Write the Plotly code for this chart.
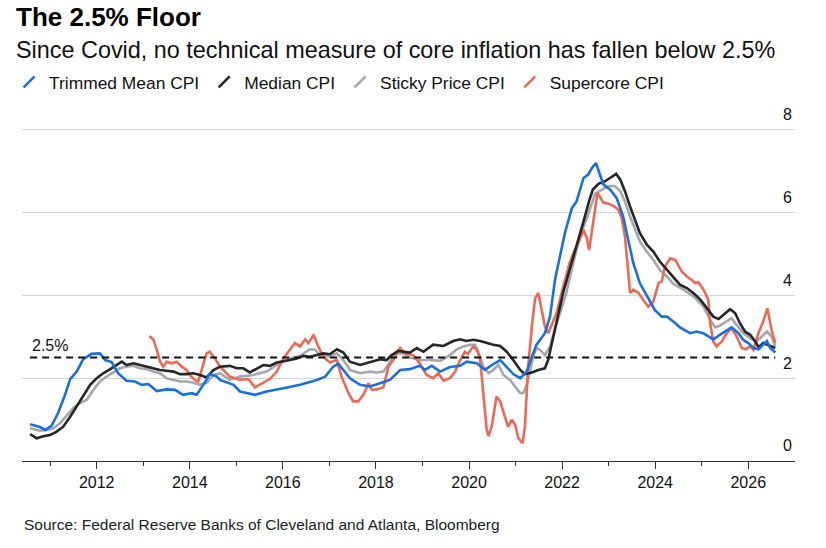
import plotly.graph_objects as go

# Core inflation measures, y/y %, x in decimal years
trim_x = [2010.57, 2010.78, 2010.89, 2011.03, 2011.17, 2011.32, 2011.43, 2011.57, 2011.71, 2011.89,
          2012.07, 2012.18, 2012.32, 2012.46, 2012.64, 2012.82, 2012.97, 2013.11, 2013.29, 2013.50,
          2013.68, 2013.86, 2014.04, 2014.15, 2014.29, 2014.43, 2014.58, 2014.65, 2014.94, 2015.08,
          2015.40, 2015.65, 2016.01, 2016.37, 2016.73, 2016.91, 2017.08, 2017.19, 2017.30, 2017.44,
          2017.66, 2017.87, 2018.09, 2018.30, 2018.52, 2018.73, 2018.94, 2019.05, 2019.20, 2019.38,
          2019.59, 2019.81, 2019.95, 2020.17, 2020.34, 2020.49, 2020.67, 2020.81, 2020.95, 2021.10,
          2021.24, 2021.35, 2021.45, 2021.63, 2021.74, 2021.85, 2022.06, 2022.21, 2022.31, 2022.46,
          2022.56, 2022.64, 2022.73, 2022.80, 2022.89, 2023.03, 2023.17, 2023.31, 2023.42, 2023.53,
          2023.67, 2023.82, 2023.99, 2024.14, 2024.25, 2024.39, 2024.53, 2024.75, 2024.89, 2025.03,
          2025.25, 2025.39, 2025.54, 2025.64, 2025.79, 2025.89, 2026.00, 2026.11, 2026.22, 2026.29,
          2026.40, 2026.47, 2026.58]
trim_y = [0.89, 0.82, 0.75, 0.85, 1.16, 1.60, 1.98, 2.16, 2.46, 2.59,
          2.60, 2.44, 2.39, 2.12, 1.94, 1.92, 1.84, 1.86, 1.69, 1.73,
          1.72, 1.60, 1.64, 1.60, 1.84, 2.10, 2.04, 1.96, 1.84, 1.68,
          1.60, 1.68, 1.76, 1.84, 1.96, 2.04, 2.28, 2.35, 2.20, 2.00,
          1.84, 1.80, 1.88, 1.96, 2.20, 2.22, 2.30, 2.20, 2.30, 2.16,
          2.27, 2.30, 2.40, 2.36, 2.20, 2.32, 2.44, 2.27, 2.10, 2.00,
          2.16, 2.52, 2.81, 3.09, 3.49, 4.40, 5.51, 6.11, 6.27, 6.84,
          6.92, 7.08, 7.20, 6.96, 6.68, 6.56, 6.36, 5.91, 5.35, 4.78,
          4.30, 3.98, 3.65, 3.49, 3.49, 3.37, 3.23, 3.09, 3.13, 3.09,
          2.94, 3.05, 3.17, 3.23, 3.09, 2.93, 2.85, 2.73, 2.70, 2.78,
          2.90, 2.73, 2.62]

med_x = [2010.57, 2010.71, 2010.85, 2011.00, 2011.14, 2011.28, 2011.43, 2011.57, 2011.71, 2011.86,
         2012.00, 2012.14, 2012.29, 2012.43, 2012.54, 2012.64, 2012.79, 2012.93, 2013.07, 2013.22,
         2013.36, 2013.50, 2013.65, 2013.79, 2013.93, 2014.08, 2014.22, 2014.36, 2014.51, 2014.65,
         2014.86, 2015.01, 2015.15, 2015.29, 2015.44, 2015.58, 2015.72, 2015.87, 2016.15, 2016.30,
         2016.44, 2016.58, 2016.73, 2016.87, 2017.01, 2017.16, 2017.30, 2017.44, 2017.66, 2017.87,
         2018.09, 2018.23, 2018.34, 2018.48, 2018.59, 2018.73, 2018.88, 2019.02, 2019.23, 2019.45,
         2019.66, 2019.81, 2019.95, 2020.09, 2020.24, 2020.38, 2020.52, 2020.67, 2020.81, 2020.95,
         2021.10, 2021.20, 2021.35, 2021.49, 2021.63, 2021.70, 2021.81, 2021.95, 2022.02, 2022.16,
         2022.31, 2022.45, 2022.59, 2022.66, 2022.78, 2022.92, 2023.03, 2023.16, 2023.25, 2023.35,
         2023.46, 2023.57, 2023.67, 2023.82, 2023.96, 2024.10, 2024.25, 2024.39, 2024.53, 2024.68,
         2024.82, 2024.97, 2025.11, 2025.25, 2025.36, 2025.46, 2025.61, 2025.72, 2025.82, 2025.93,
         2026.04, 2026.15, 2026.22, 2026.32, 2026.47, 2026.58]
med_y = [0.65, 0.55, 0.60, 0.63, 0.71, 0.83, 1.07, 1.33, 1.57, 1.84,
         2.00, 2.12, 2.22, 2.32, 2.40, 2.32, 2.36, 2.32, 2.28, 2.24,
         2.20, 2.18, 2.16, 2.10, 2.10, 2.12, 2.08, 2.02, 2.20, 2.28,
         2.30, 2.24, 2.24, 2.14, 2.24, 2.32, 2.30, 2.38, 2.44, 2.48,
         2.54, 2.52, 2.56, 2.60, 2.58, 2.70, 2.62, 2.40, 2.32, 2.38,
         2.46, 2.44, 2.56, 2.66, 2.64, 2.62, 2.73, 2.64, 2.81, 2.78,
         2.90, 2.94, 2.90, 2.93, 2.90, 2.85, 2.81, 2.78, 2.64, 2.44,
         2.20, 2.10, 2.14, 2.20, 2.24, 2.44, 3.01, 3.65, 4.06, 4.62,
         5.18, 5.75, 6.32, 6.56, 6.70, 6.76, 6.84, 6.94, 6.80, 6.52,
         6.15, 5.83, 5.51, 5.23, 5.06, 4.82, 4.62, 4.42, 4.26, 4.18,
         4.06, 3.90, 3.69, 3.49, 3.43, 3.53, 3.67, 3.57, 3.33, 3.13,
         3.05, 2.89, 2.75, 2.85, 2.77, 2.73]

sticky_x = [2010.57, 2010.78, 2010.93, 2011.07, 2011.21, 2011.36, 2011.50, 2011.64, 2011.79, 2011.93,
            2012.07, 2012.21, 2012.36, 2012.50, 2012.64, 2012.79, 2012.93, 2013.07, 2013.22, 2013.36,
            2013.50, 2013.65, 2013.79, 2013.93, 2014.08, 2014.22, 2014.36, 2014.51, 2014.65, 2014.86,
            2015.08, 2015.36, 2015.65, 2015.87, 2016.15, 2016.37, 2016.58, 2016.69, 2016.80, 2017.01,
            2017.16, 2017.30, 2017.44, 2017.66, 2017.87, 2018.02, 2018.16, 2018.30, 2018.45, 2018.59,
            2018.73, 2018.94, 2019.16, 2019.38, 2019.59, 2019.73, 2019.88, 2020.02, 2020.13, 2020.20,
            2020.31, 2020.42, 2020.52, 2020.63, 2020.74, 2020.88, 2020.99, 2021.10, 2021.17, 2021.24,
            2021.31, 2021.38, 2021.45, 2021.52, 2021.63, 2021.74, 2021.84, 2021.95, 2022.09, 2022.24,
            2022.38, 2022.52, 2022.64, 2022.71, 2022.81, 2022.92, 2023.03, 2023.14, 2023.25, 2023.35,
            2023.46, 2023.57, 2023.67, 2023.82, 2023.96, 2024.10, 2024.25, 2024.39, 2024.61, 2024.82,
            2025.04, 2025.18, 2025.29, 2025.39, 2025.54, 2025.64, 2025.75, 2025.89, 2026.04, 2026.18,
            2026.29, 2026.40, 2026.50, 2026.58]
sticky_y = [0.79, 0.73, 0.75, 0.79, 0.91, 1.11, 1.28, 1.40, 1.48, 1.72,
            1.92, 2.04, 2.14, 2.24, 2.28, 2.30, 2.24, 2.22, 2.16, 2.12,
            2.00, 1.96, 1.92, 1.92, 1.89, 1.84, 1.89, 2.08, 2.12, 1.96,
            2.04, 2.08, 2.16, 2.32, 2.48, 2.54, 2.70, 2.69, 2.56, 2.52,
            2.60, 2.44, 2.20, 2.12, 2.16, 2.14, 2.16, 2.40, 2.60, 2.60,
            2.50, 2.44, 2.44, 2.42, 2.56, 2.69, 2.77, 2.81, 2.81, 2.64,
            2.28, 2.12, 2.20, 2.32, 2.08, 1.96, 1.81, 1.64, 1.65, 1.84,
            2.16, 2.54, 2.73, 2.69, 2.56, 2.77, 3.17, 3.57, 4.06, 4.78,
            5.43, 5.83, 6.23, 6.46, 6.52, 6.60, 6.65, 6.64, 6.52, 6.27,
            5.91, 5.59, 5.31, 5.06, 4.86, 4.62, 4.46, 4.28, 4.14, 3.98,
            3.73, 3.41, 3.23, 3.27, 3.37, 3.45, 3.29, 3.09, 2.97, 2.89,
            3.01, 3.13, 3.01, 2.77]

core_x = [2013.13, 2013.22, 2013.29, 2013.36, 2013.43, 2013.50, 2013.61, 2013.72, 2013.83, 2013.93,
          2014.00, 2014.11, 2014.18, 2014.26, 2014.36, 2014.43, 2014.54, 2014.65, 2014.86, 2015.08,
          2015.26, 2015.40, 2015.55, 2015.72, 2015.87, 2016.01, 2016.15, 2016.26, 2016.37, 2016.48,
          2016.55, 2016.66, 2016.76, 2016.87, 2017.01, 2017.16, 2017.26, 2017.41, 2017.51, 2017.62,
          2017.73, 2017.84, 2017.91, 2018.02, 2018.16, 2018.27, 2018.37, 2018.52, 2018.62, 2018.80,
          2018.94, 2019.09, 2019.23, 2019.34, 2019.45, 2019.59, 2019.70, 2019.81, 2019.91, 2019.98,
          2020.09, 2020.17, 2020.24, 2020.31, 2020.38, 2020.42, 2020.49, 2020.59, 2020.67, 2020.77,
          2020.84, 2020.92, 2020.99, 2021.06, 2021.15, 2021.20, 2021.27, 2021.35, 2021.42, 2021.49,
          2021.56, 2021.63, 2021.70, 2021.81, 2021.88, 2022.02, 2022.16, 2022.24, 2022.35, 2022.46,
          2022.53, 2022.58, 2022.64, 2022.71, 2022.76, 2022.81, 2022.88, 2022.99, 2023.10, 2023.21,
          2023.28, 2023.35, 2023.40, 2023.46, 2023.53, 2023.64, 2023.74, 2023.85, 2023.96, 2024.07,
          2024.14, 2024.21, 2024.32, 2024.43, 2024.57, 2024.68, 2024.78, 2024.86, 2024.93, 2025.04,
          2025.14, 2025.18, 2025.25, 2025.32, 2025.43, 2025.54, 2025.64, 2025.75, 2025.86, 2025.95,
          2026.04, 2026.11, 2026.22, 2026.32, 2026.41, 2026.50, 2026.58]
core_y = [3.02, 2.93, 2.69, 2.40, 2.28, 2.40, 2.36, 2.40, 2.28, 2.20,
          2.08, 1.96, 1.92, 2.20, 2.60, 2.64, 2.48, 2.28, 2.04, 1.96,
          1.98, 1.78, 1.88, 1.98, 2.16, 2.48, 2.69, 2.85, 2.77, 2.94,
          2.85, 3.05, 2.77, 2.52, 2.38, 2.44, 2.04, 1.64, 1.44, 1.44,
          1.60, 1.88, 1.72, 1.73, 1.78, 2.28, 2.44, 2.73, 2.60, 2.56,
          2.36, 2.08, 2.00, 2.12, 1.94, 2.00, 2.16, 2.44, 2.64, 2.59,
          2.77, 2.69, 2.44, 1.56, 0.75, 0.60, 0.85, 1.56, 1.44, 1.07,
          0.83, 1.00, 0.87, 0.55, 0.43, 0.83, 2.28, 3.25, 3.94, 4.06,
          3.69, 3.25, 3.09, 3.41, 3.57, 4.20, 4.78, 5.02, 5.27, 5.59,
          5.39, 5.10, 5.59, 6.15, 6.48, 6.39, 6.25, 6.22, 6.17, 6.07,
          5.87, 5.43, 4.86, 4.06, 4.14, 4.06, 3.90, 3.73, 3.85, 4.30,
          4.34, 4.70, 4.90, 4.86, 4.58, 4.46, 4.38, 4.30, 4.32, 4.14,
          3.90, 3.33, 2.89, 2.77, 2.89, 3.09, 3.21, 3.01, 2.73, 2.70,
          2.77, 2.69, 3.09, 3.37, 3.69, 3.17, 2.85]

floor = 2.5
year_ticks = [2012, 2014, 2016, 2018, 2020, 2022, 2024, 2026]

names = ['Trimmed Mean CPI', 'Median CPI', 'Sticky Price CPI', 'Supercore CPI']
colors = {'Trimmed Mean CPI': '#1a6fe0', 'Median CPI': '#262626',
          'Sticky Price CPI': '#a4a7ae', 'Supercore CPI': '#ec6a55'}
series = {'Trimmed Mean CPI': (trim_x, trim_y), 'Median CPI': (med_x, med_y),
          'Sticky Price CPI': (sticky_x, sticky_y), 'Supercore CPI': (core_x, core_y)}

FONT = 'Arial, Liberation Sans, sans-serif'

fig = go.Figure()

# Draw lines (gray and red underneath, blue on top)
for name in ['Sticky Price CPI', 'Supercore CPI', 'Median CPI', 'Trimmed Mean CPI']:
    xs, ys = series[name]
    fig.add_trace(go.Scatter(
        x=xs, y=ys, mode='lines', name=name, legendgroup=name, showlegend=False,
        line=dict(color=colors[name], width=2.6),
        hovertemplate='<b>' + name + '</b><br>%{x:.2f}: %{y:.1f}%<extra></extra>'))

# Legend entries with slash markers, like the original
for name in names:
    fig.add_trace(go.Scatter(
        x=[None], y=[None], mode='markers', name=name, legendgroup=name,
        marker=dict(symbol='line-ne', size=11, color=colors[name],
                    line=dict(color=colors[name], width=2.6)),
        hoverinfo='skip'))

# 2.5% floor
fig.add_trace(go.Scatter(
    x=[trim_x[0], trim_x[-1]], y=[floor, floor], mode='lines', showlegend=False,
    line=dict(color='#111111', width=2, dash='7px,5px'), hoverinfo='skip'))

fig.add_annotation(x=trim_x[0], y=floor, xref='x', yref='y', text='2.5%',
                   showarrow=False, xanchor='left', yanchor='bottom', yshift=2,
                   font=dict(size=16, color='#111111'))

# Titles and source (plot area is 360px tall, bottom at 461px)
fig.add_annotation(x=-0.0103, y=1.2333, xref='paper', yref='paper',
                   text='<b>The 2.5% Floor</b>', showarrow=False,
                   xanchor='left', yanchor='middle', font=dict(size=26, color='#000000'))
fig.add_annotation(x=-0.0103, y=1.1417, xref='paper', yref='paper',
                   text='Since Covid, no technical measure of core inflation has fallen below 2.5%',
                   showarrow=False, xanchor='left', yanchor='middle',
                   font=dict(size=23.4, color='#111111'))
fig.add_annotation(x=0, y=-0.175, xref='paper', yref='paper',
                   text='Source: Federal Reserve Banks of Cleveland and Atlanta, Bloomberg',
                   showarrow=False, xanchor='left', yanchor='middle',
                   font=dict(size=15.5, color='#222222'))

fig.update_layout(
    width=826, height=548,
    margin=dict(l=22, r=31, t=101, b=87, autoexpand=False),
    paper_bgcolor='white', plot_bgcolor='white',
    font=dict(family=FONT, color='#111111'),
    showlegend=True,
    legend=dict(orientation='h', xref='container', yref='container',
                x=0.011, y=1 - 82 / 548, xanchor='left', yanchor='middle',
                font=dict(size=17.4, color='#111111'), bgcolor='rgba(0,0,0,0)',
                itemclick='toggleothers'),
    hovermode='closest',
)

fig.update_xaxes(
    range=[2010.395, 2027.004], tickvals=year_ticks, tickformat='d',
    showgrid=False, zeroline=False, automargin=False,
    showline=True, linecolor='#333333', linewidth=1,
    ticks='outside', ticklen=7, tickcolor='#333333', tickwidth=1,
    tickfont=dict(size=16, color='#111111'),
    minor=dict(dtick=1, tick0=2011, ticks='outside', ticklen=4,
               tickcolor='#333333', showgrid=False),
)

fig.update_yaxes(
    range=[0, 8.7], tickvals=[0, 2, 4, 6, 8], side='right', ticklabelposition='inside top',
    ticklabelshift=-4, automargin=False,
    showgrid=True, gridcolor='#d6d6d6', gridwidth=1,
    zeroline=False, showline=False, ticks='',
    tickfont=dict(size=16, color='#111111'),
)

fig.write_html('out.html', config={'displayModeBar': False},
               post_script="document.body.style.margin='0';")
print('wrote out.html')
